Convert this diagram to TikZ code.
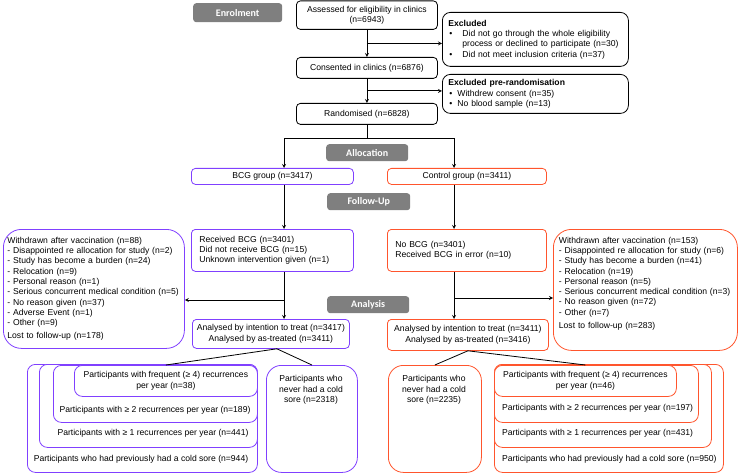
\documentclass[tikz,border=0pt]{standalone}
\usepackage{fontspec}
\setmainfont{Liberation Sans}
\newfontfamily\stagefont{Carlito}
\usetikzlibrary{shapes,arrows,positioning,calc}
\definecolor{bcgpurple}{RGB}{128,64,255}
\definecolor{ctrlred}{RGB}{255,85,45}
\definecolor{stagegrey}{RGB}{127,127,127}

\begin{document}
\begin{tikzpicture}[
    x=1pt, y=-1pt,
    every node/.style={font=\fontsize{8.6}{10.3}\selectfont},
    box/.style={draw=black, rounded corners=4pt, fill=white, line width=0.8pt,
                anchor=north west, align=center, inner sep=0pt},
    bcgbox/.style={box, draw=bcgpurple},
    ctrlbox/.style={box, draw=ctrlred},
    nest/.style={rounded corners=8pt},
    stage/.style={fill=stagegrey, rounded corners=3pt, anchor=north west, inner sep=0pt,
                  text=white, font=\stagefont\fontsize{10}{12}\selectfont\bfseries},
    txt/.style={inner sep=0pt, align=center},
    arrow/.style={line width=0.8pt, ->, >=stealth},
    line/.style={line width=0.8pt}
]
\useasboundingbox (0,0) rectangle (738,473);

% Stage labels on the grey bars
\node[stage, minimum width=89pt, minimum height=19pt] (enrol) at (193,3) {Enrolment};
\node[stage, minimum width=82pt, minimum height=17pt] (alloc) at (326,144) {Allocation};
\node[stage, minimum width=83pt, minimum height=17pt] (follow) at (327,193) {Follow-Up};
\node[stage, minimum width=82pt, minimum height=17pt] (analysis) at (327,296) {Analysis};

% Enrolment column
\node[box, minimum width=141pt, minimum height=28.5pt] (assessed) at (296,0.5) {Assessed for eligibility in clinics\\(n=6943)};
\node[box, minimum width=141pt, minimum height=21pt] (consented) at (296,57) {Consented in clinics (n=6876)};
\node[box, minimum width=141pt, minimum height=21pt] (randomised) at (296,103) {Randomised (n=6828)};

\node[box, rounded corners=8pt, minimum height=54pt, text width=174pt, inner xsep=6pt, align=left] (excl) at (442,12)
    {\textbf{Excluded}\\\makebox[14pt][l]{\hspace*{1pt}\textbullet}Did not go through the whole eligibility\\\hspace*{14pt}process or declined to participate (n=30)\\\makebox[14pt][l]{\hspace*{1pt}\textbullet}Did not meet inclusion criteria (n=37)};
\node[box, rounded corners=8pt, minimum height=39pt, text width=174pt, inner xsep=6pt, align=left] (exclpre) at (442,74)
    {\textbf{Excluded pre-randomisation}\\\makebox[9pt][l]{\hspace*{1pt}\textbullet}Withdrew consent (n=35)\\\makebox[9pt][l]{\hspace*{1pt}\textbullet}No blood sample (n=13)};

% Groups and follow-up
\node[bcgbox, minimum width=162pt, minimum height=16pt] (bcg) at (191,168) {BCG group (n=3417)};
\node[ctrlbox, minimum width=159pt, minimum height=16pt] (ctrl) at (387,168) {Control group (n=3411)};

\node[bcgbox, minimum height=42pt, text width=146pt, inner xsep=8pt, align=left] (recbcg) at (191,229)
    {Received BCG (n=3401)\\Did not receive BCG (n=15)\\Unknown intervention given (n=1)};
\node[ctrlbox, minimum height=42pt, text width=143pt, inner xsep=8pt, align=left] (nobcg) at (387,229)
    {No BCG (n=3401)\\Received BCG in error (n=10)};

\node[bcgbox, rounded corners=18pt, minimum height=119pt, text width=173pt, inner xsep=4pt, align=left] (wdbcg) at (3,229)
    {Withdrawn after vaccination (n=88)\\- Disappointed re allocation for study (n=2)\\- Study has become a burden (n=24)\\- Relocation (n=9)\\- Personal reason (n=1)\\- Serious concurrent medical condition (n=5)\\- No reason given (n=37)\\- Adverse Event (n=1)\\- Other (n=9)\\[3pt]Lost to follow-up (n=178)};
\node[ctrlbox, rounded corners=18pt, minimum height=121pt, text width=177pt, inner xsep=3.5pt, align=left] (wdctrl) at (553,229)
    {\hspace*{2pt}Withdrawn after vaccination (n=153)\\\hspace*{2pt}- Disappointed re allocation for study (n=6)\\\hspace*{2pt}- Study has become a burden (n=41)\\\hspace*{2pt}- Relocation (n=19)\\\hspace*{2pt}- Personal reason (n=5)\\\hspace*{2pt}- Serious concurrent medical condition (n=3)\\\hspace*{2pt}- No reason given (n=72)\\\hspace*{2pt}- Other (n=7)\\[3pt]\hspace*{2pt}Lost to follow-up (n=283)\\[4pt]\mbox{}};

% Analysis
\node[bcgbox, minimum width=157pt, minimum height=29pt] (anabcg) at (192,319) {Analysed by intention to treat (n=3417)\\Analysed by as-treated (n=3411)};
\node[ctrlbox, minimum width=161pt, minimum height=31pt] (anactrl) at (387,319) {Analysed by intention to treat (n=3411)\\Analysed by as-treated (n=3416)};

% Nested subgroups, BCG side
\node[bcgbox, nest, minimum width=230pt, minimum height=108pt] (prevbcg) at (27,364) {};
\node[bcgbox, nest, minimum width=218pt, minimum height=83pt] (rec1bcg) at (39,364) {};
\node[bcgbox, nest, minimum width=204pt, minimum height=57pt] (rec2bcg) at (53,365) {};
\node[bcgbox, nest, minimum width=183pt, minimum height=31pt] (freqbcg) at (74,365) {Participants with frequent (≥ 4) recurrences\\per year (n=38)};
\node[txt] (rec2bcgtxt) at (155,410) {Participants with ≥ 2 recurrences per year (n=189)};
\node[txt] (rec1bcgtxt) at (153,433) {Participants with ≥ 1 recurrences per year (n=441)};
\node[txt] (prevbcgtxt) at (141,459) {Participants who had previously had a cold sore (n=944)};
\node[bcgbox, rounded corners=15pt, minimum width=91pt, minimum height=107pt] (neverbcg) at (266,365) {};
\node[txt] (neverbcgtxt) at (311,390) {Participants who\\never had a cold\\sore (n=2318)};

% Nested subgroups, control side
\node[ctrlbox, nest, minimum width=229pt, minimum height=108pt] (prevctrl) at (494,364) {};
\node[ctrlbox, nest, minimum width=217pt, minimum height=83pt] (rec1ctrl) at (494,364) {};
\node[ctrlbox, nest, minimum width=204pt, minimum height=57pt] (rec2ctrl) at (494,365) {};
\node[ctrlbox, nest, minimum width=182pt, minimum height=31pt] (freqctrl) at (494,365) {Participants with frequent (≥ 4) recurrences\\per year (n=46)};
\node[txt, anchor=west] (rec2ctrltxt) at (502,408) {Participants with ≥ 2 recurrences per year (n=197)};
\node[txt, anchor=west] (rec1ctrltxt) at (502,433) {Participants with ≥ 1 recurrences per year (n=431)};
\node[txt, anchor=west] (prevctrltxt) at (502,459) {Participants who had previously had a cold sore (n=950)};
\node[ctrlbox, rounded corners=15pt, minimum width=93pt, minimum height=107pt] (neverctrl) at (388,365) {};
\node[txt] (neverctrltxt) at (434,390) {Participants who\\never had a cold\\sore (n=2235)};

% Connect enrolment flow
\coordinate (excsplit) at ($(assessed.south)!0.5!(consented.north)$);
\coordinate (presplit) at ($(consented.south)!0.5!(randomised.north)$);
\draw[arrow] (assessed) -- (consented);
\draw[arrow] (consented) -- (randomised);
\draw[arrow] (excsplit) -- (excsplit -| excl.west);
\draw[arrow] (presplit) -- (presplit -| exclpre.west);

% Split into the two arms
\coordinate (bcgline) at (284,138);
\coordinate (ctrlline) at (454,138);
\draw[arrow] (randomised.south) |- (bcgline) -- (bcgline |- bcg.north);
\draw[arrow] (randomised.south) |- (ctrlline) -- (ctrlline |- ctrl.north);
\draw[arrow] (bcgline |- bcg.south) -- (bcgline |- recbcg.north);
\draw[arrow] (ctrlline |- ctrl.south) -- (ctrlline |- nobcg.north);
\draw[arrow] (bcgline |- recbcg.south) -- (bcgline |- anabcg.north);
\draw[arrow] (ctrlline |- nobcg.south) -- (ctrlline |- anactrl.north);

% Withdrawals
\coordinate (wdbcgsplit) at (284,300);
\coordinate (wdctrlsplit) at (454,298);
\draw[arrow] (wdbcgsplit) -- (wdbcgsplit -| wdbcg.east);
\draw[arrow] (wdctrlsplit) -- (wdctrlsplit -| wdctrl.west);

% Analysis to subgroups
\draw[line] ([xshift=6pt]anabcg.south) -- (freqbcg.north);
\draw[line] ([xshift=6pt]anabcg.south) -- (neverbcg.north);
\draw[line] (anactrl.south) -- (neverctrl.north);
\draw[line] (anactrl.south) -- (freqctrl.north);

\end{tikzpicture}
\end{document}
